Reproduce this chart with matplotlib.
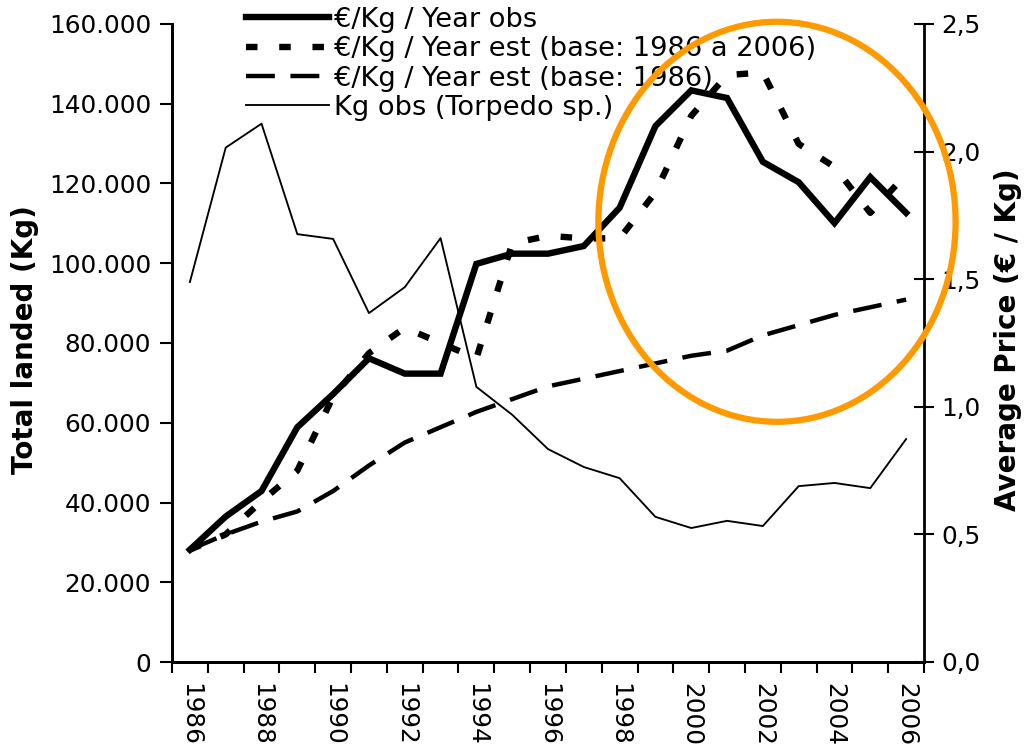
import numpy as np
import matplotlib
matplotlib.use("Agg")
import matplotlib.pyplot as plt
from matplotlib.patches import Ellipse
from matplotlib.ticker import FuncFormatter, FixedLocator

# ── Data ──────────────────────────────────────────────────────────────────────
years = list(range(1986, 2007))

kg_obs = [95300, 129000, 135000, 107300, 106100, 87500, 94000, 106300,
          69000, 62000, 53400, 48900, 46100, 36400, 33600, 35400,
          34100, 44100, 44900, 43600, 55900]

price_obs = [0.44, 0.57, 0.67, 0.92, 1.05, 1.19, 1.13, 1.13, 1.56, 1.60,
             1.60, 1.63, 1.78, 2.10, 2.24, 2.21, 1.96, 1.88, 1.72, 1.90, 1.76]

price_est_all = [0.44, 0.50, 0.63, 0.75, 1.04, 1.21, 1.31, 1.25, 1.19, 1.64,
                 1.67, 1.66, 1.66, 1.84, 2.14, 2.30, 2.31, 2.03, 1.94, 1.76, 1.91]

price_est_1986 = [0.44, 0.50, 0.55, 0.59, 0.67, 0.77, 0.86, 0.92, 0.98, 1.03,
                  1.08, 1.11, 1.14, 1.17, 1.20, 1.22, 1.28, 1.32, 1.36, 1.39, 1.42]

labels = ["€/Kg / Year obs",
          "€/Kg / Year est (base: 1986 a 2006)",
          "€/Kg / Year est (base: 1986)",
          "Kg obs (Torpedo sp.)"]

# ── Plot ──────────────────────────────────────────────────────────────────────
plt.rcParams["font.family"] = ["DejaVu Sans"]
fig = plt.figure(figsize=(10.24, 7.51), dpi=100)
ax = fig.add_axes([172 / 1024, 1 - 662 / 751, 752 / 1024, 638 / 751])
ax2 = ax.twinx()

x = np.arange(len(years))

l4, = ax.plot(x, kg_obs, color="black", lw=1.35)
l1, = ax2.plot(x, price_obs, color="black", lw=4.6, solid_joinstyle="miter")
l2, = ax2.plot(x, price_est_all, color="black", lw=4.6,
               dashes=(1.8, 3.4), dash_capstyle="butt")
l3, = ax2.plot(x, price_est_1986, color="black", lw=3.2,
               dashes=(6.5, 3.5), dash_capstyle="butt")

ax.set_xlim(-0.5, len(years) - 0.5)
ax.set_ylim(0, 160000)
ax2.set_ylim(0, 2.5)

TICK_FS = 17.8

# category ticks between points, labels on every other year
ax.xaxis.set_major_locator(FixedLocator(np.arange(-0.5, len(years), 1)))
ax.xaxis.set_major_formatter(FuncFormatter(lambda v, p: ""))
ax.xaxis.set_minor_locator(FixedLocator(x[::2]))
ax.set_xticklabels([str(y) for y in years[::2]], minor=True,
                   rotation=270, fontsize=TICK_FS, va="top", ha="center")
ax.tick_params(axis="x", which="major", direction="out", length=8, width=1.5)
ax.tick_params(axis="x", which="minor", length=0, pad=15)

ax.yaxis.set_major_locator(FixedLocator(np.arange(0, 160001, 20000)))
ax.yaxis.set_major_formatter(FuncFormatter(lambda v, p: f"{v:,.0f}".replace(",", ".")))
ax.tick_params(axis="y", direction="out", length=9, width=1.5, labelsize=TICK_FS, pad=6)

ax2.yaxis.set_major_locator(FixedLocator(np.arange(0, 2.51, 0.5)))
ax2.yaxis.set_major_formatter(FuncFormatter(lambda v, p: f"{v:.1f}".replace(".", ",")))
ax2.tick_params(axis="y", direction="inout", length=15, width=1.5, labelsize=TICK_FS, pad=5)

for a in (ax, ax2):
    a.spines["top"].set_visible(False)
    for s in ("left", "right", "bottom"):
        a.spines[s].set_linewidth(2)
ax.spines["right"].set_visible(False)

ax.set_ylabel("Total landed (Kg)", fontsize=20, fontweight="bold")
ax.yaxis.set_label_coords(-0.177, 0.506)
ax2.set_ylabel("Average Price (€ / Kg)", fontsize=20, fontweight="bold")
ax2.yaxis.set_label_coords(1.093, 0.505)

leg = ax2.legend([l1, l2, l3, l4], labels, loc="upper left",
                 bbox_to_anchor=(246 / 1024, 1 - 7 / 751),
                 bbox_transform=fig.transFigure, frameon=False, fontsize=19.6,
                 handlelength=3.05, handletextpad=0.2, labelspacing=0.12,
                 borderpad=0, borderaxespad=0)
leg.set_zorder(5)

# orange highlight around the 1998-2006 peak
ell = Ellipse((0.8045, 0.69), 0.475, 0.627, transform=ax2.transAxes,
              fill=False, edgecolor="#FF9900", lw=4.5, clip_on=False, zorder=10)
ax2.add_patch(ell)

plt.savefig("out.png", dpi=100)
